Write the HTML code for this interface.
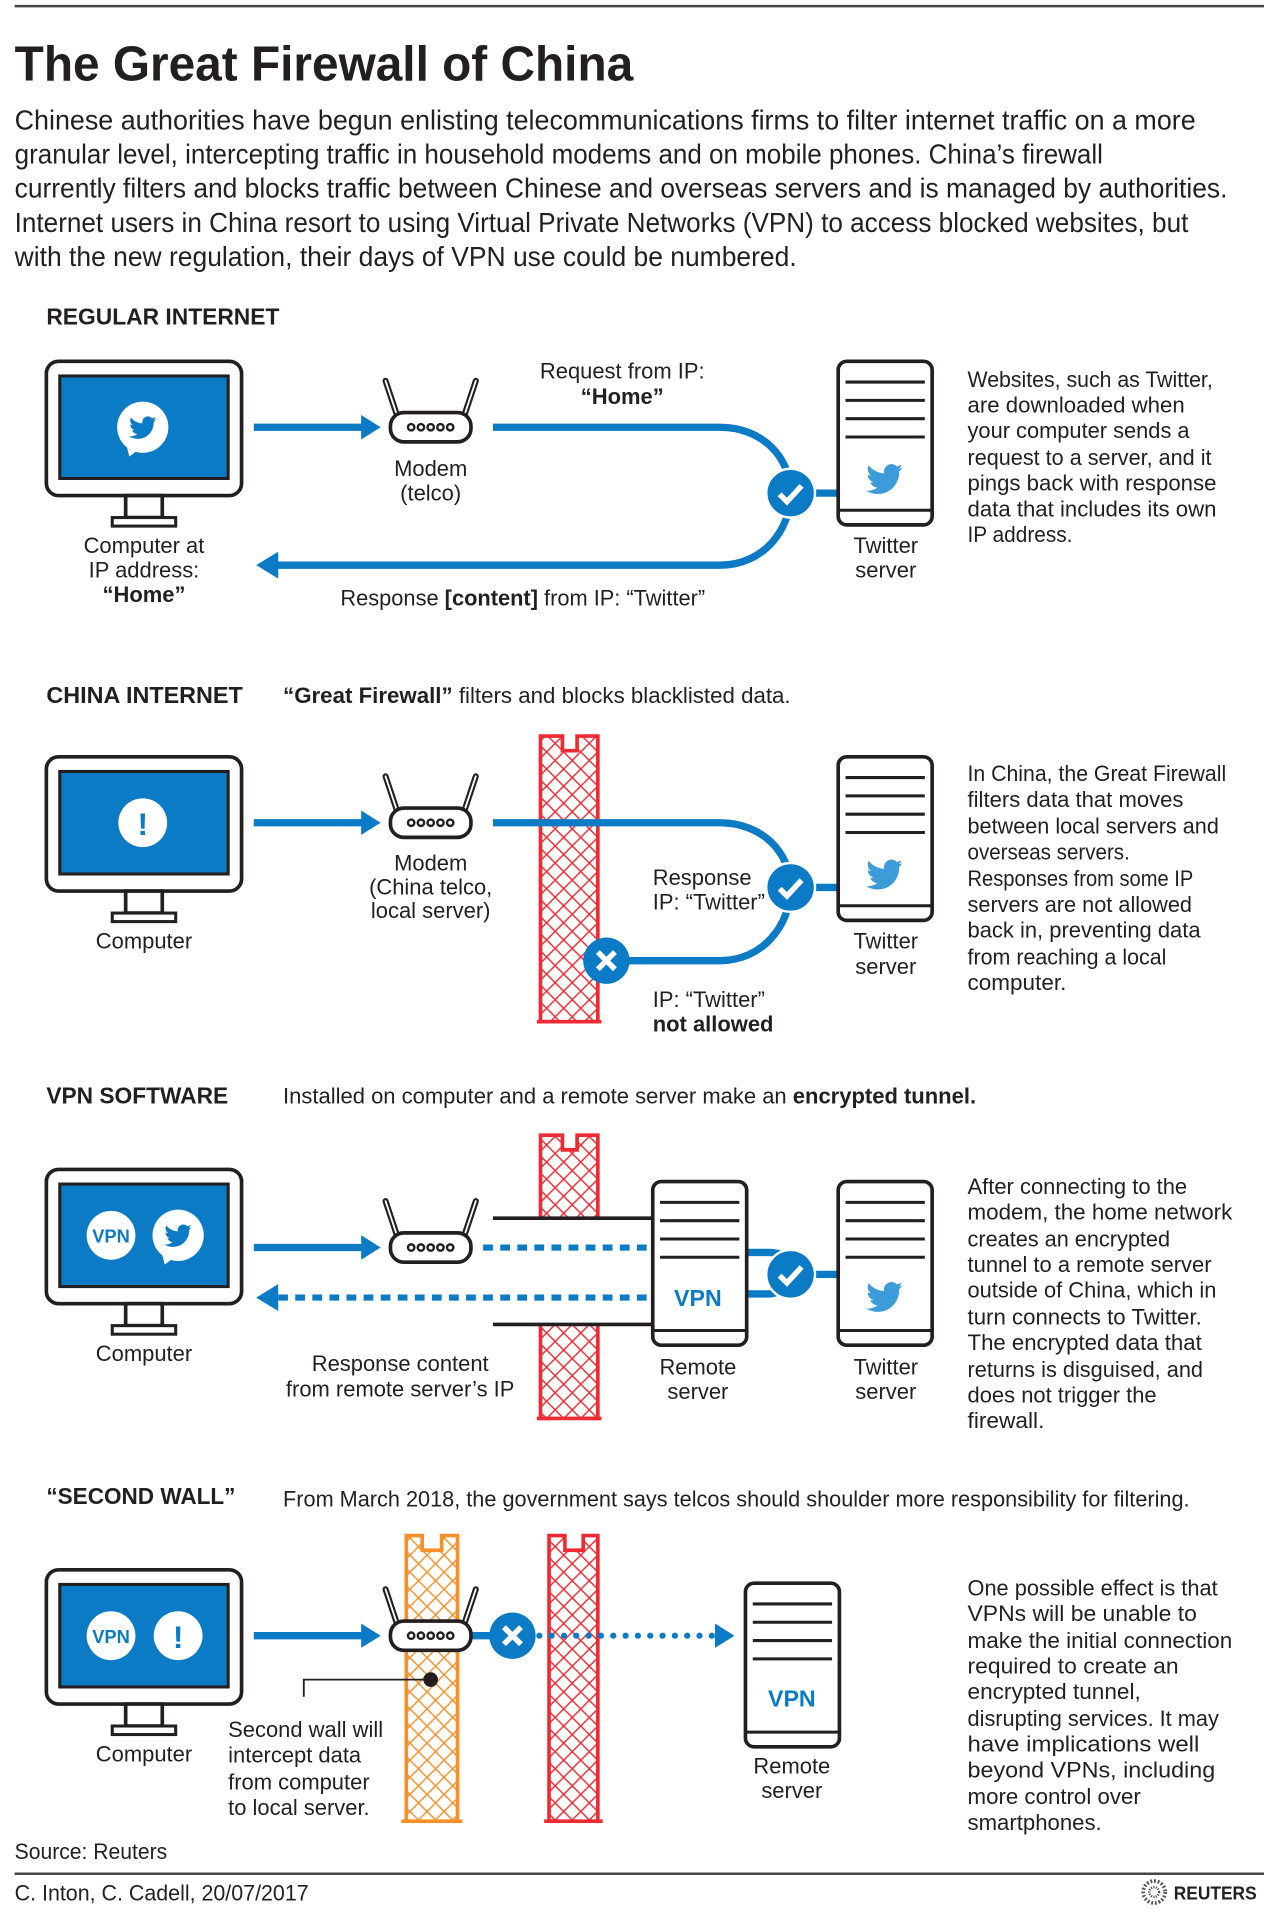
<!DOCTYPE html>
<html><head><meta charset="utf-8"><style>
html,body{margin:0;padding:0;background:#fff;}
svg{display:block;}
text{font-family:"Liberation Sans Narrow","Liberation Sans",sans-serif;fill:#231f20;}
.b{font-weight:bold;}
</style></head><body>
<svg width="1264" height="1914" viewBox="0 0 1036 1568" preserveAspectRatio="none" xmlns="http://www.w3.org/2000/svg">
<defs>
<pattern id="hr" width="14" height="14" patternUnits="userSpaceOnUse">
<rect width="14" height="14" fill="#fff"/>
<path d="M0,0L14,14M14,0L0,14" stroke="#ee2b33" stroke-width="1.2"/>
</pattern>
<pattern id="ho" width="14" height="14" patternUnits="userSpaceOnUse">
<rect width="14" height="14" fill="#fff"/>
<path d="M0,0L14,14M14,0L0,14" stroke="#f7902a" stroke-width="1.2"/>
</pattern>
<path id="bird" d="M22,5c-0.8,0.4-1.6,0.6-2.5,0.7c0.9-0.5,1.6-1.4,1.9-2.4c-0.8,0.5-1.8,0.9-2.8,1.1C17.8,3.6,16.7,3,15.5,3c-2.4,0-4.4,2-4.4,4.4c0,0.3,0,0.7,0.1,1C7.6,8.2,4.4,6.5,2.2,3.8c-0.4,0.6-0.6,1.4-0.6,2.2c0,1.5,0.8,2.9,2,3.7c-0.7,0-1.4-0.2-2-0.5c0,2.1,1.5,3.9,3.5,4.3c-0.4,0.1-0.8,0.2-1.2,0.2c-0.3,0-0.6,0-0.8-0.1c0.6,1.8,2.2,3,4.1,3.1c-1.5,1.2-3.4,1.9-5.5,1.9c-0.4,0-0.7,0-1.1-0.1c2,1.3,4.3,2,6.8,2c8.1,0,12.6-6.7,12.6-12.6l0-0.6C20.7,6.6,21.4,5.8,22,5z"/>
<g id="comp">
<rect x="38" y="296" width="160" height="110" rx="10" fill="#fff" stroke="#231f20" stroke-width="3"/>
<rect x="49" y="308" width="138" height="84" fill="#0a7bc4" stroke="#231f20" stroke-width="2.5"/>
<rect x="103" y="406" width="30" height="18" fill="#fff" stroke="#231f20" stroke-width="3"/>
<rect x="92" y="424" width="52" height="7" fill="#fff" stroke="#231f20" stroke-width="2.5"/>
</g>
<g id="modem">
<line x1="-27" y1="-8" x2="-37" y2="-38" stroke="#231f20" stroke-width="5" stroke-linecap="round"/>
<line x1="-27" y1="-8" x2="-37" y2="-38" stroke="#fff" stroke-width="1.5" stroke-linecap="round"/>
<line x1="27" y1="-8" x2="37" y2="-38" stroke="#231f20" stroke-width="5" stroke-linecap="round"/>
<line x1="27" y1="-8" x2="37" y2="-38" stroke="#fff" stroke-width="1.5" stroke-linecap="round"/>
<rect x="-33" y="-12" width="66" height="24" rx="11" fill="#fff" stroke="#231f20" stroke-width="3"/>
<g fill="#fff" stroke="#231f20" stroke-width="2"><circle cx="-16" cy="0" r="2.6"/><circle cx="-8" cy="0" r="2.6"/><circle cx="0" cy="0" r="2.6"/><circle cx="8" cy="0" r="2.6"/><circle cx="16" cy="0" r="2.6"/></g>
</g>
<g id="server">
<rect x="0" y="0" width="77" height="134" rx="7" fill="#fff" stroke="#231f20" stroke-width="3"/>
<g stroke="#231f20" stroke-width="2.5"><line x1="6" y1="17" x2="71" y2="17"/><line x1="6" y1="32" x2="71" y2="32"/><line x1="6" y1="47" x2="71" y2="47"/><line x1="6" y1="62" x2="71" y2="62"/><line x1="1" y1="122" x2="76" y2="122"/></g>
</g>
<g id="check"><circle r="20" fill="#0a7bc4" stroke="#fff" stroke-width="2"/><path d="M-9,1L-3,7L9,-6" fill="none" stroke="#fff" stroke-width="4.5"/></g>
<g id="xx"><circle r="19" fill="#0a7bc4"/><path d="M-7,-7L7,7M7,-7L-7,7" stroke="#fff" stroke-width="4.5"/></g>
</defs>

<line x1="12" y1="5" x2="1036" y2="5" stroke="#444" stroke-width="2"/>
<text x="12" y="66" class="b" font-size="40" textLength="507" lengthAdjust="spacingAndGlyphs">The Great Firewall of China</text>
<g font-size="23">
<text x="12" y="106" textLength="968" lengthAdjust="spacingAndGlyphs">Chinese authorities have begun enlisting telecommunications firms to filter internet traffic on a more</text>
<text x="12" y="134" textLength="892" lengthAdjust="spacingAndGlyphs">granular level, intercepting traffic in household modems and on mobile phones. China’s firewall</text>
<text x="12" y="162" textLength="994" lengthAdjust="spacingAndGlyphs">currently filters and blocks traffic between Chinese and overseas servers and is managed by authorities.</text>
<text x="12" y="190" textLength="962" lengthAdjust="spacingAndGlyphs">Internet users in China resort to using Virtual Private Networks (VPN) to access blocked websites, but</text>
<text x="12" y="218" textLength="641" lengthAdjust="spacingAndGlyphs">with the new regulation, their days of VPN use could be numbered.</text>
</g>

<!-- SECTION 1 -->
<text x="38" y="266" class="b" font-size="19" textLength="191" lengthAdjust="spacingAndGlyphs">REGULAR INTERNET</text>
<use href="#comp"/>
<circle cx="117" cy="350" r="21" fill="#fff"/>
<path d="M104,366 l2,8 l8,-6z" fill="#fff"/>
<use href="#bird" transform="translate(105,338) scale(1.05)" fill="#0a7bc4"/>
<line x1="208" y1="350" x2="298" y2="350" stroke="#0a7bc4" stroke-width="6"/>
<polygon points="312,350 296,340 296,360" fill="#0a7bc4"/>
<use href="#modem" transform="translate(353,350)"/>
<g font-size="18" text-anchor="middle">
<text x="353" y="390">Modem</text><text x="353" y="410">(telco)</text>
<text x="510" y="310">Request from IP:</text><text x="510" y="331" class="b">“Home”</text>
<text x="118" y="453">Computer at</text><text x="118" y="473">IP address:</text><text x="118" y="493" class="b">“Home”</text>
<text x="726" y="453">Twitter</text><text x="726" y="473">server</text>
</g>
<path d="M404,350H590C625,350 648,375 648,404C648,435 625,463 590,463H226" fill="none" stroke="#0a7bc4" stroke-width="6"/>
<polygon points="210,463 228,452 228,474" fill="#0a7bc4"/>
<line x1="660" y1="404" x2="690" y2="404" stroke="#0a7bc4" stroke-width="6"/>
<use href="#server" transform="translate(687,296)"/>
<use href="#bird" transform="translate(709,376) scale(1.4)" fill="#3b9cd9"/>
<use href="#check" transform="translate(648,404)"/>
<text x="279" y="496" font-size="18" textLength="299" lengthAdjust="spacingAndGlyphs">Response <tspan class="b">[content]</tspan> from IP: “Twitter”</text>
<g font-size="18">
<text x="793" y="317" textLength="201" lengthAdjust="spacingAndGlyphs">Websites, such as Twitter,</text>
<text x="793" y="338" textLength="178" lengthAdjust="spacingAndGlyphs">are downloaded when</text>
<text x="793" y="359" textLength="182" lengthAdjust="spacingAndGlyphs">your computer sends a</text>
<text x="793" y="381" textLength="200" lengthAdjust="spacingAndGlyphs">request to a server, and it</text>
<text x="793" y="402" textLength="204" lengthAdjust="spacingAndGlyphs">pings back with response</text>
<text x="793" y="423" textLength="204" lengthAdjust="spacingAndGlyphs">data that includes its own</text>
<text x="793" y="444" textLength="86" lengthAdjust="spacingAndGlyphs">IP address.</text>
</g>

<!-- SECTION 2 -->
<text x="38" y="576" class="b" font-size="19" textLength="161" lengthAdjust="spacingAndGlyphs">CHINA INTERNET</text>
<text x="232" y="576" font-size="18" textLength="416" lengthAdjust="spacingAndGlyphs"><tspan class="b">“Great Firewall”</tspan> filters and blocks blacklisted data.</text>
<g transform="translate(0,324)"><use href="#comp"/></g>
<circle cx="117" cy="674" r="20" fill="#fff"/>
<text x="117" y="684" text-anchor="middle" class="b" font-size="26" fill="#0a7bc4" style="fill:#0a7bc4">!</text>
<line x1="208" y1="674" x2="298" y2="674" stroke="#0a7bc4" stroke-width="6"/>
<polygon points="312,674 296,664 296,684" fill="#0a7bc4"/>
<path d="M443,837V603H461V615H473V603H490V837Z" fill="url(#hr)" stroke="#ee2b33" stroke-width="3"/>
<path d="M440,837H452M481,837H493" stroke="#ee2b33" stroke-width="3"/>
<use href="#modem" transform="translate(353,674)"/>
<path d="M404,674H590C625,674 648,699 648,727C648,758 625,787 590,787H515" fill="none" stroke="#0a7bc4" stroke-width="6"/>
<line x1="660" y1="727" x2="690" y2="727" stroke="#0a7bc4" stroke-width="6"/>
<use href="#server" transform="translate(687,620)"/>
<use href="#bird" transform="translate(709,700) scale(1.4)" fill="#3b9cd9"/>
<use href="#check" transform="translate(648,727)"/>
<use href="#xx" transform="translate(497,787)"/>
<g font-size="18" text-anchor="middle">
<text x="353" y="713">Modem</text><text x="353" y="733">(China telco,</text><text x="353" y="752">local server)</text>
<text x="118" y="777">Computer</text>
<text x="726" y="777">Twitter</text><text x="726" y="798">server</text>
</g>
<g font-size="18">
<text x="535" y="725">Response</text>
<text x="535" y="745">IP: “Twitter”</text>
<text x="535" y="825">IP: “Twitter”</text>
<text x="535" y="845" class="b">not allowed</text>
<text x="793" y="640" textLength="212" lengthAdjust="spacingAndGlyphs">In China, the Great Firewall</text>
<text x="793" y="661" textLength="177" lengthAdjust="spacingAndGlyphs">filters data that moves</text>
<text x="793" y="683" textLength="206" lengthAdjust="spacingAndGlyphs">between local servers and</text>
<text x="793" y="704" textLength="133" lengthAdjust="spacingAndGlyphs">overseas servers.</text>
<text x="793" y="726" textLength="185" lengthAdjust="spacingAndGlyphs">Responses from some IP</text>
<text x="793" y="747" textLength="184" lengthAdjust="spacingAndGlyphs">servers are not allowed</text>
<text x="793" y="768" textLength="191" lengthAdjust="spacingAndGlyphs">back in, preventing data</text>
<text x="793" y="790" textLength="163" lengthAdjust="spacingAndGlyphs">from reaching a local</text>
<text x="793" y="811" textLength="81" lengthAdjust="spacingAndGlyphs">computer.</text>
</g>

<!-- SECTION 3 -->
<text x="38" y="904" class="b" font-size="19" textLength="149" lengthAdjust="spacingAndGlyphs">VPN SOFTWARE</text>
<text x="232" y="904" font-size="18" textLength="568" lengthAdjust="spacingAndGlyphs">Installed on computer and a remote server make an <tspan class="b">encrypted tunnel.</tspan></text>
<g transform="translate(0,662)"><use href="#comp"/></g>
<circle cx="91" cy="1012" r="20" fill="#fff"/>
<text x="91" y="1018" text-anchor="middle" class="b" font-size="15" style="fill:#0a7bc4">VPN</text>
<circle cx="146" cy="1012" r="21" fill="#fff"/>
<path d="M133,1028 l2,8 l8,-6z" fill="#fff"/>
<use href="#bird" transform="translate(134,1000) scale(1.05)" fill="#0a7bc4"/>
<path d="M443,1162V930H461V942H473V930H490V1162Z" fill="url(#hr)" stroke="#ee2b33" stroke-width="3"/>
<path d="M440,1162H452M481,1162H493" stroke="#ee2b33" stroke-width="3"/>
<rect x="404" y="999" width="133" height="86" fill="#fff"/>
<line x1="404" y1="998" x2="537" y2="998" stroke="#231f20" stroke-width="3"/>
<line x1="404" y1="1085" x2="537" y2="1085" stroke="#231f20" stroke-width="3"/>
<line x1="208" y1="1022" x2="298" y2="1022" stroke="#0a7bc4" stroke-width="6"/>
<polygon points="312,1022 296,1012 296,1032" fill="#0a7bc4"/>
<line x1="396" y1="1022" x2="532" y2="1022" stroke="#0a7bc4" stroke-width="5" stroke-dasharray="8,6"/>
<line x1="228" y1="1063" x2="532" y2="1063" stroke="#0a7bc4" stroke-width="5" stroke-dasharray="8,6"/>
<polygon points="210,1063 228,1052 228,1074" fill="#0a7bc4"/>
<use href="#modem" transform="translate(353,1022)"/>
<path d="M611,1026H630C645,1026 650,1035 648,1044C646,1052 640,1060 630,1060H611" fill="none" stroke="#0a7bc4" stroke-width="6"/>
<line x1="660" y1="1044" x2="690" y2="1044" stroke="#0a7bc4" stroke-width="6"/>
<use href="#server" transform="translate(535,968)"/>
<text x="572" y="1070" text-anchor="middle" class="b" font-size="19" style="fill:#0a7bc4">VPN</text>
<use href="#server" transform="translate(687,968)"/>
<use href="#bird" transform="translate(709,1046) scale(1.4)" fill="#3b9cd9"/>
<use href="#check" transform="translate(648,1044)"/>
<g font-size="18" text-anchor="middle">
<text x="118" y="1115">Computer</text>
<text x="328" y="1123">Response content</text><text x="328" y="1144">from remote server’s IP</text>
<text x="572" y="1126">Remote</text><text x="572" y="1146">server</text>
<text x="726" y="1126">Twitter</text><text x="726" y="1146">server</text>
</g>
<g font-size="18">
<text x="793" y="978" textLength="180" lengthAdjust="spacingAndGlyphs">After connecting to the</text>
<text x="793" y="999" textLength="217" lengthAdjust="spacingAndGlyphs">modem, the home network</text>
<text x="793" y="1021" textLength="166" lengthAdjust="spacingAndGlyphs">creates an encrypted</text>
<text x="793" y="1042" textLength="200" lengthAdjust="spacingAndGlyphs">tunnel to a remote server</text>
<text x="793" y="1063" textLength="204" lengthAdjust="spacingAndGlyphs">outside of China, which in</text>
<text x="793" y="1085" textLength="192" lengthAdjust="spacingAndGlyphs">turn connects to Twitter.</text>
<text x="793" y="1106" textLength="192" lengthAdjust="spacingAndGlyphs">The encrypted data that</text>
<text x="793" y="1128" textLength="193" lengthAdjust="spacingAndGlyphs">returns is disguised, and</text>
<text x="793" y="1149" textLength="155" lengthAdjust="spacingAndGlyphs">does not trigger the</text>
<text x="793" y="1170" textLength="63" lengthAdjust="spacingAndGlyphs">firewall.</text>
</g>

<!-- SECTION 4 -->
<text x="38" y="1232" class="b" font-size="19" textLength="155" lengthAdjust="spacingAndGlyphs">“SECOND WALL”</text>
<text x="232" y="1234" font-size="18" textLength="743" lengthAdjust="spacingAndGlyphs">From March 2018, the government says telcos should shoulder more responsibility for filtering.</text>
<g transform="translate(0,990)"><use href="#comp"/></g>
<circle cx="91" cy="1340" r="20" fill="#fff"/>
<text x="91" y="1346" text-anchor="middle" class="b" font-size="15" style="fill:#0a7bc4">VPN</text>
<circle cx="146" cy="1340" r="20" fill="#fff"/>
<text x="146" y="1350" text-anchor="middle" class="b" font-size="26" style="fill:#0a7bc4">!</text>
<path d="M333,1492V1258H346V1270H362V1258H375V1492Z" fill="url(#ho)" stroke="#f7902a" stroke-width="3"/>
<path d="M329,1492H339M369,1492H379" stroke="#f7902a" stroke-width="3"/>
<path d="M450,1492V1258H463V1270H478V1258H490V1492Z" fill="url(#hr)" stroke="#ee2b33" stroke-width="3"/>
<path d="M446,1492H456M484,1492H494" stroke="#ee2b33" stroke-width="3"/>
<line x1="208" y1="1340" x2="298" y2="1340" stroke="#0a7bc4" stroke-width="6"/>
<polygon points="312,1340 296,1330 296,1350" fill="#0a7bc4"/>
<line x1="385" y1="1340" x2="405" y2="1340" stroke="#0a7bc4" stroke-width="6"/>
<use href="#modem" transform="translate(353,1340)"/>
<use href="#xx" transform="translate(420,1340)"/>
<line x1="442" y1="1340" x2="586" y2="1340" stroke="#0a7bc4" stroke-width="5" stroke-linecap="round" stroke-dasharray="0.1,10"/>
<polygon points="602,1340 586,1330 586,1350" fill="#0a7bc4"/>
<circle cx="353" cy="1376" r="6" fill="#231f20"/>
<path d="M353,1376H249V1390" fill="none" stroke="#231f20" stroke-width="1.5"/>
<use href="#server" transform="translate(611,1297)"/>
<text x="649" y="1398" text-anchor="middle" class="b" font-size="19" style="fill:#0a7bc4">VPN</text>
<g font-size="18" text-anchor="middle">
<text x="118" y="1443">Computer</text>
<text x="649" y="1453">Remote</text><text x="649" y="1473">server</text>
</g>
<g font-size="18">
<text x="187" y="1423">Second wall will</text>
<text x="187" y="1444">intercept data</text>
<text x="187" y="1466">from computer</text>
<text x="187" y="1487">to local server.</text>
<text x="793" y="1307" textLength="205" lengthAdjust="spacingAndGlyphs">One possible effect is that</text>
<text x="793" y="1328" textLength="188" lengthAdjust="spacingAndGlyphs">VPNs will be unable to</text>
<text x="793" y="1350" textLength="217" lengthAdjust="spacingAndGlyphs">make the initial connection</text>
<text x="793" y="1371" textLength="173" lengthAdjust="spacingAndGlyphs">required to create an</text>
<text x="793" y="1392" textLength="142" lengthAdjust="spacingAndGlyphs">encrypted tunnel,</text>
<text x="793" y="1414" textLength="206" lengthAdjust="spacingAndGlyphs">disrupting services. It may</text>
<text x="793" y="1435" textLength="190" lengthAdjust="spacingAndGlyphs">have implications well</text>
<text x="793" y="1456" textLength="203" lengthAdjust="spacingAndGlyphs">beyond VPNs, including</text>
<text x="793" y="1478" textLength="142" lengthAdjust="spacingAndGlyphs">more control over</text>
<text x="793" y="1499" textLength="110" lengthAdjust="spacingAndGlyphs">smartphones.</text>
<text x="12" y="1523" textLength="125" lengthAdjust="spacingAndGlyphs">Source: Reuters</text>
<text x="12" y="1557" textLength="241" lengthAdjust="spacingAndGlyphs">C. Inton, C. Cadell,  20/07/2017</text>
</g>
<line x1="12" y1="1535" x2="1036" y2="1535" stroke="#444" stroke-width="2"/>
<circle cx="946" cy="1550" r="9" fill="none" stroke="#555" stroke-width="3" stroke-dasharray="1.5,1.5"/>
<circle cx="946" cy="1550" r="4" fill="none" stroke="#555" stroke-width="2" stroke-dasharray="1,1"/>
<text x="962" y="1556" class="b" font-size="15" textLength="68" lengthAdjust="spacingAndGlyphs">REUTERS</text>
</svg>
</body></html>
